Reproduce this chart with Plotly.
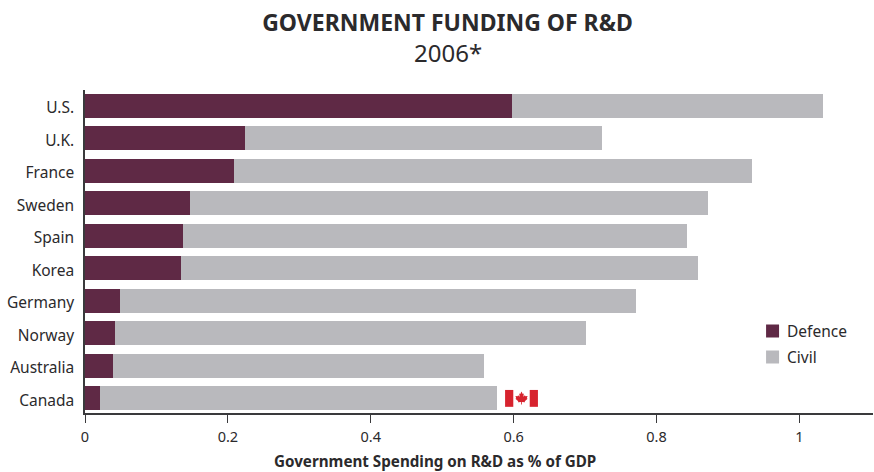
import plotly.graph_objects as go

countries = ["U.S.", "U.K.", "France", "Sweden", "Spain", "Korea", "Germany", "Norway", "Australia", "Canada"]
defence = [0.598, 0.224, 0.209, 0.147, 0.137, 0.135, 0.049, 0.042, 0.039, 0.021]
civil = [0.435, 0.500, 0.725, 0.725, 0.706, 0.723, 0.722, 0.659, 0.520, 0.555]
x_ticks = [0, 0.2, 0.4, 0.6, 0.8, 1]
x_tick_labels = ["0", "0.2", "0.4", "0.6", "0.8", "1"]
series_names = ["Defence", "Civil"]

INK = "#2b2a2c"
BODY_FONT = "Noto Sans"
PLUM = "#5f2945"
GREY = "#b9b9bd"
FLAG_RED = "#d7232e"
W, H = 874, 472
MARGIN_L, MARGIN_R, MARGIN_T, MARGIN_B = 84.5, 1, 90, 59


def paper_x(px):
    return (px - MARGIN_L) / (W - MARGIN_L - MARGIN_R)


def paper_y(py):
    return 1 - (py - MARGIN_T) / (H - MARGIN_T - MARGIN_B)


fig = go.Figure()
fig.add_bar(y=countries, x=defence, name=series_names[0], orientation="h", marker=dict(color=PLUM, line_width=0))
fig.add_bar(y=countries, x=civil, name=series_names[1], orientation="h", marker=dict(color=GREY, line_width=0))

# Canadian flag beside the last bar, placed in axis units
FLAG_X0, FLAG_X1 = 0.588, 0.634
FLAG_Y0, FLAG_Y1 = 9.27, 8.75
BAND = (FLAG_X1 - FLAG_X0) / 4
for x0, x1 in [(FLAG_X0, FLAG_X0 + BAND), (FLAG_X1 - BAND, FLAG_X1)]:
    fig.add_shape(type="rect", xref="x", yref="y", x0=x0, x1=x1, y0=FLAG_Y0, y1=FLAG_Y1,
                  fillcolor=FLAG_RED, line_width=0, layer="above")

leaf_outline = [(0, -1), (0.18, -0.62), (0.34, -0.72), (0.27, -0.22), (0.5, -0.45), (0.58, -0.28),
                (0.9, -0.33), (0.78, 0.02), (0.9, 0.1), (0.48, 0.48), (0.52, 0.66), (0.06, 0.6),
                (0.06, 1), (-0.06, 1), (-0.06, 0.6), (-0.52, 0.66), (-0.48, 0.48), (-0.9, 0.1),
                (-0.78, 0.02), (-0.9, -0.33), (-0.58, -0.28), (-0.5, -0.45), (-0.27, -0.22),
                (-0.34, -0.72), (-0.18, -0.62)]
leaf_cx = (FLAG_X0 + FLAG_X1) / 2
leaf_cy = 9.0
leaf_path = "M" + " L".join(f"{leaf_cx + px * 0.0095},{leaf_cy + py * 0.2}" for px, py in leaf_outline) + " Z"
fig.add_shape(type="path", xref="x", yref="y", path=leaf_path, fillcolor=FLAG_RED, line_width=0, layer="above")

# Legend keys and labels with the tighter key-to-text gap and wider row spacing
for name, color, row_y in zip(series_names, [PLUM, GREY], [331, 357]):
    fig.add_shape(type="rect", xref="paper", yref="paper",
                  x0=paper_x(766), x1=paper_x(779), y0=paper_y(row_y - 6.5), y1=paper_y(row_y + 6.5),
                  line_width=0, fillcolor=color)
    fig.add_annotation(xref="paper", yref="paper", x=paper_x(785), y=paper_y(row_y), xanchor="left",
                       yanchor="middle", text=name, showarrow=False, font=dict(size=15.5, color=INK))

fig.add_annotation(xref="paper", yref="paper", x=paper_x(447.5), y=paper_y(52.5), xanchor="center",
                   yanchor="middle", text="2006*", showarrow=False, font=dict(size=24, color=INK))
fig.add_annotation(xref="paper", yref="paper", x=paper_x(434.5), y=paper_y(460.5), xanchor="center",
                   yanchor="middle", text="<b>Government Spending on R&D as % of GDP</b>", showarrow=False,
                   font=dict(size=15.2, color=INK))

fig.update_layout(
    width=W, height=H,
    margin=dict(l=MARGIN_L, r=MARGIN_R, t=MARGIN_T, b=MARGIN_B),
    paper_bgcolor="white", plot_bgcolor="white",
    barmode="stack", bargap=0.26,
    font=dict(family=BODY_FONT, size=15, color=INK),
    title=dict(
        text="<b>GOVERNMENT FUNDING OF R&D</b>",
        x=447.5 / W, xanchor="center", y=1 - 23 / H, yanchor="middle",
        font=dict(family=BODY_FONT, size=23, color=INK),
    ),
    showlegend=False,
    xaxis=dict(
        range=[0, 1.103], tickvals=x_ticks, ticktext=x_tick_labels, showgrid=False, zeroline=False,
        showline=True, linecolor="#3a3a3c", linewidth=1.5, ticks="outside", ticklen=8, tickwidth=1,
        tickcolor="#3a3a3c", tickfont=dict(size=14.5, color=INK), ticklabelstandoff=2,
    ),
    yaxis=dict(
        categoryorder="array", categoryarray=countries, range=[9.46, -0.49], showgrid=False, zeroline=False,
        showline=True, linecolor="#3a3a3c", linewidth=1.5, ticks="", ticklabelshift=-2, ticklabelstandoff=6,
        tickfont=dict(size=15.5, color=INK),
    ),
)

fig.write_html("out.html")
